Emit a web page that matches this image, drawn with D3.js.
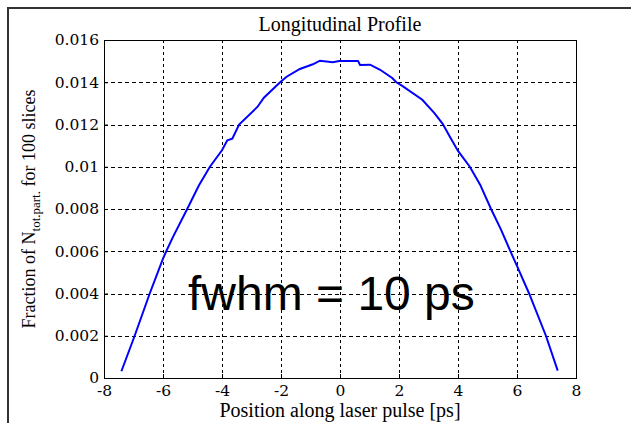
<!DOCTYPE html>
<html>
<head>
<meta charset="utf-8">
<script src="https://cdn.jsdelivr.net/npm/d3@7"></script>
<style>
  html, body { margin: 0; padding: 0; background: #fff; }
  svg { display: block; }
</style>
</head>
<body>
<svg id="chart" width="631" height="423"></svg>
<script>
// ---- data ----
const positions = [-7.41, -6.96, -6.45, -6.00, -5.89, -5.66, -5.18, -4.78, -4.41, -4.00,
  -3.82, -3.65, -3.42, -2.80, -2.58, -2.03, -1.81, -1.36, -0.92, -0.68, -0.24, -0.03,
  0.30, 0.61, 0.68, 1.02, 1.36, 1.77, 1.91, 2.11, 2.79, 3.20, 3.48, 3.72, 4.00, 4.40,
  4.75, 5.12, 5.45, 5.76, 6.01, 6.41, 6.98, 7.38];
const fractions = [0.00032, 0.0020, 0.0040, 0.00565, 0.0060, 0.00668, 0.0080, 0.00912, 0.0100, 0.01078,
  0.01125, 0.01133, 0.0120, 0.01283, 0.01327, 0.0140, 0.01426, 0.01463, 0.01485, 0.01502, 0.01495, 0.01501,
  0.01501, 0.01501, 0.01482, 0.01483, 0.01459, 0.01420, 0.01400, 0.01383, 0.01317, 0.01254, 0.01203, 0.01143, 0.01075, 0.01000,
  0.00915, 0.00800, 0.00705, 0.00605, 0.00527, 0.0040, 0.0020, 0.00035];
const xTicks = [-8, -6, -4, -2, 0, 2, 4, 6, 8];
const yTicks = [0, 0.002, 0.004, 0.006, 0.008, 0.01, 0.012, 0.014, 0.016];
const yTickLabels = ["0", "0.002", "0.004", "0.006", "0.008", "0.01", "0.012", "0.014", "0.016"];
const titleText = "Longitudinal Profile";
const xLabelText = "Position along laser pulse [ps]";
const annotationText = "fwhm = 10 ps";

// ---- layout ----
const svg = d3.select("#chart");
const pLeft = 104, pRight = 576, pTop = 40, pBottom = 378;
const x = d3.scaleLinear().domain([-8, 8]).range([pLeft, pRight]);
const y = d3.scaleLinear().domain([0, 0.016]).range([pBottom, pTop]);

// outer frame (top and left edges visible)
svg.append("path")
  .attr("d", "M8,423 L8,8 L631,8")
  .attr("fill", "none").attr("stroke", "#333").attr("stroke-width", 2);

// grid
const grid = svg.append("g");
grid.selectAll("line.vg").data(xTicks.slice(1, -1)).enter().append("line")
  .attr("x1", d => Math.round(x(d)) + 0.5).attr("x2", d => Math.round(x(d)) + 0.5)
  .attr("y1", pTop).attr("y2", pBottom)
  .attr("stroke", "#000").attr("stroke-width", 1).attr("stroke-dasharray", "3,3");
grid.selectAll("line.hg").data(yTicks.slice(1, -1)).enter().append("line")
  .attr("y1", d => Math.round(y(d)) + 0.5).attr("y2", d => Math.round(y(d)) + 0.5)
  .attr("x1", pLeft).attr("x2", pRight)
  .attr("stroke", "#000").attr("stroke-width", 1).attr("stroke-dasharray", "4,3");

// axes
const xAxis = d3.axisBottom(x).tickValues(xTicks).tickSize(-4).tickPadding(7)
  .tickFormat(d => String(d));
const yAxis = d3.axisLeft(y).tickValues(yTicks).tickSize(-4).tickPadding(5)
  .tickFormat((d, i) => yTickLabels[i]);

const gx = svg.append("g").attr("transform", `translate(0,${pBottom})`).call(xAxis);
const gy = svg.append("g").attr("transform", `translate(${pLeft},0)`).call(yAxis);
[gx, gy].forEach(g => {
  g.select(".domain").remove();
  g.selectAll("line").attr("stroke", "#000");
  g.selectAll("text").attr("font-family", "'DejaVu Serif', serif").attr("font-size", 15.5).attr("fill", "#000");
});
gx.selectAll("text").attr("dy", "0.72em");

// plot box
svg.append("rect")
  .attr("x", pLeft + 0.5).attr("y", pTop + 0.5)
  .attr("width", pRight - pLeft).attr("height", pBottom - pTop)
  .attr("fill", "none").attr("stroke", "#000").attr("stroke-width", 1);

// curve
const pts = positions.map((p, i) => [p, fractions[i]]);
svg.append("path")
  .datum(pts)
  .attr("d", d3.line().x(d => x(d[0])).y(d => y(d[1])))
  .attr("fill", "none").attr("stroke", "#0000ff").attr("stroke-width", 2);

// title
svg.append("text")
  .attr("x", (pLeft + pRight) / 2).attr("y", 31)
  .attr("text-anchor", "middle")
  .attr("font-family", "'Liberation Serif', serif").attr("font-size", 20)
  .text(titleText);

// x label
svg.append("text")
  .attr("x", (pLeft + pRight) / 2).attr("y", 417)
  .attr("text-anchor", "middle")
  .attr("font-family", "'Liberation Serif', serif").attr("font-size", 20)
  .text(xLabelText);

// y label with subscript
const yl = svg.append("text")
  .attr("transform", `translate(35,${(pTop + pBottom) / 2}) rotate(-90)`)
  .attr("text-anchor", "middle")
  .attr("font-family", "'Liberation Serif', serif").attr("font-size", 18);
yl.append("tspan").text("Fraction of N");
yl.append("tspan").attr("font-size", 13).attr("dy", 5).text("tot.part.");
yl.append("tspan").attr("dy", -5).text(" for 100 slices");

// annotation
svg.append("text")
  .attr("x", 188).attr("y", 310)
  .attr("font-family", "'Liberation Sans', Arial, sans-serif").attr("font-size", 48)
  .attr("fill", "#000")
  .text(annotationText);
</script>
</body>
</html>
